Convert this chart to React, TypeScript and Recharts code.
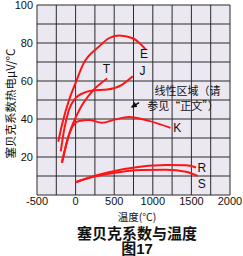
import { LineChart, Line, XAxis, YAxis, CartesianGrid, ReferenceDot, ReferenceLine } from 'recharts';

const FONT = '"Liberation Sans", Arial, "Noto Sans CJK SC", sans-serif';
const CJK = '"Noto Sans CJK SC", "Liberation Sans", sans-serif';

// temperature (°C) ticks every 250, labels every 500
const xTicks = [-500, -250, 0, 250, 500, 750, 1000, 1250, 1500, 1750, 2000];
const yTicks = [0, 10, 20, 30, 40, 50, 60, 70, 80, 90, 100];

// Seebeck coefficient (µV/°C)
const typeE = [
  { t: -225, v: 28 }, { t: -170, v: 38 }, { t: -85, v: 50 }, { t: 0, v: 59 },
  { t: 100, v: 69 }, { t: 300, v: 78 }, { t: 430, v: 82.5 }, { t: 560, v: 84 },
  { t: 740, v: 82.5 }, { t: 840, v: 79.5 }, { t: 910, v: 76.5 },
];
const typeJ = [
  { t: -192, v: 23 }, { t: -150, v: 34 }, { t: -85, v: 45 }, { t: 0, v: 51 },
  { t: 90, v: 53.5 }, { t: 220, v: 55 }, { t: 410, v: 55.5 }, { t: 600, v: 58 },
  { t: 740, v: 62.5 },
];
const typeT = [
  { t: -180, v: 17 }, { t: -85, v: 32 }, { t: 45, v: 44.5 }, { t: 215, v: 54.5 },
  { t: 410, v: 61.3 },
];
const typeK = [
  { t: -175, v: 17 }, { t: -105, v: 29 }, { t: -40, v: 36 }, { t: 45, v: 39 },
  { t: 175, v: 39.5 }, { t: 340, v: 38 }, { t: 520, v: 39.8 }, { t: 690, v: 41 },
  { t: 950, v: 39 }, { t: 1230, v: 35.3 },
];
const typeR = [
  { t: 0, v: 6.7 }, { t: 200, v: 9.5 }, { t: 430, v: 12 }, { t: 860, v: 15 },
  { t: 1170, v: 15.8 }, { t: 1430, v: 15.7 }, { t: 1560, v: 14.5 },
];
const typeS = [
  { t: 0, v: 6.7 }, { t: 200, v: 9.3 }, { t: 430, v: 11.2 }, { t: 860, v: 13.2 },
  { t: 1170, v: 13.3 }, { t: 1430, v: 12.2 }, { t: 1580, v: 10 },
];

const series = [typeE, typeJ, typeT, typeK, typeR, typeS];

const curveLabels = [
  { name: 'E', t: 887, v: 74.4 },
  { name: 'T', t: 399, v: 66.6 },
  { name: 'J', t: 865, v: 65.2 },
  { name: 'K', t: 1318, v: 35.3 },
  { name: 'R', t: 1634, v: 14.5 },
  { name: 'S', t: 1634, v: 5.8 },
];

const noteLines = [
  { text: '线性区域（请', t: 1450, v: 54.5 },
  { text: '参见“正文”）', t: 1392, v: 46.8 },
];

export default function App() {
  return (
    <div style={{ position: 'absolute', left: 0, top: 0, width: 243, height: 256, background: '#fff' }}>
      <LineChart width={243} height={256} margin={{ top: 5, right: 13, left: 0, bottom: 37 }}>
        <defs>
          <marker id="arrowHead" markerWidth="6" markerHeight="6" refX="5" refY="3" orient="auto" markerUnits="userSpaceOnUse">
            <path d="M0,0 L6,3 L0,6 z" fill="#111" />
          </marker>
        </defs>
        <CartesianGrid stroke="#2a2a2a" strokeWidth={1} fill="#ece8f2" fillOpacity={1} />
        <XAxis
          type="number"
          dataKey="t"
          domain={[-500, 2000]}
          ticks={xTicks}
          interval={0}
          tickFormatter={(val) => (val % 500 === 0 ? `${val}` : '')}
          tick={{ fontSize: 11, fill: '#111', fontFamily: FONT }}
          tickSize={0}
          tickMargin={2}
          axisLine={false}
          height={24}
          allowDataOverflow
        />
        <YAxis
          type="number"
          domain={[0, 100]}
          ticks={yTicks}
          interval={0}
          tickFormatter={(val) => (val !== 0 && val % 20 === 0 ? `${val}` : '')}
          tick={{ fontSize: 11, fill: '#111', fontFamily: FONT }}
          tickSize={0}
          tickMargin={4}
          axisLine={false}
          width={37}
          label={{
            content: () => (
              <text
                x={10}
                y={103.5}
                transform="rotate(-90 10 103.5)"
                textAnchor="middle"
                dominantBaseline="central"
                fontSize={11.5}
                fill="#111"
                fontFamily={CJK}
              >
                塞贝克系数热电μV/°C
              </text>
            ),
          }}
        />
        {series.map((s, i) => (
          <Line
            key={i}
            data={s}
            dataKey="v"
            type="monotone"
            stroke="#ff1414"
            strokeWidth={2}
            dot={false}
            isAnimationActive={false}
          />
        ))}
        {curveLabels.map((l) => (
          <ReferenceDot
            key={l.name}
            x={l.t}
            y={l.v}
            r={0}
            stroke="none"
            fill="none"
            label={{ value: l.name, position: 'center', fontSize: 12, fill: '#111', fontFamily: FONT }}
          />
        ))}
        {noteLines.map((n) => (
          <ReferenceDot
            key={n.text}
            x={n.t}
            y={n.v}
            r={0}
            stroke="none"
            fill="none"
            label={{ value: n.text, position: 'center', fontSize: 11, fill: '#111', fontFamily: CJK }}
          />
        ))}
        <ReferenceLine
          segment={[{ x: 822, y: 48.6 }, { x: 728, y: 46.3 }]}
          stroke="#111"
          strokeWidth={1.5}
          markerEnd="url(#arrowHead)"
        />
      </LineChart>
      <div style={{ position: 'absolute', left: 37, width: 200, top: 211, textAlign: 'center', fontSize: 10.5, lineHeight: '11px', fontFamily: CJK, color: '#111' }}>
        温度(°C)
      </div>
      <div style={{ position: 'absolute', left: 37, width: 200, top: 225, textAlign: 'center', fontSize: 15, lineHeight: '15px', fontWeight: 'bold', fontFamily: CJK, color: '#111' }}>
        塞贝克系数与温度
      </div>
      <div style={{ position: 'absolute', left: 37, width: 200, top: 241, textAlign: 'center', fontSize: 15, lineHeight: '15px', fontWeight: 'bold', fontFamily: FONT, color: '#111' }}>
        图17
      </div>
    </div>
  );
}
